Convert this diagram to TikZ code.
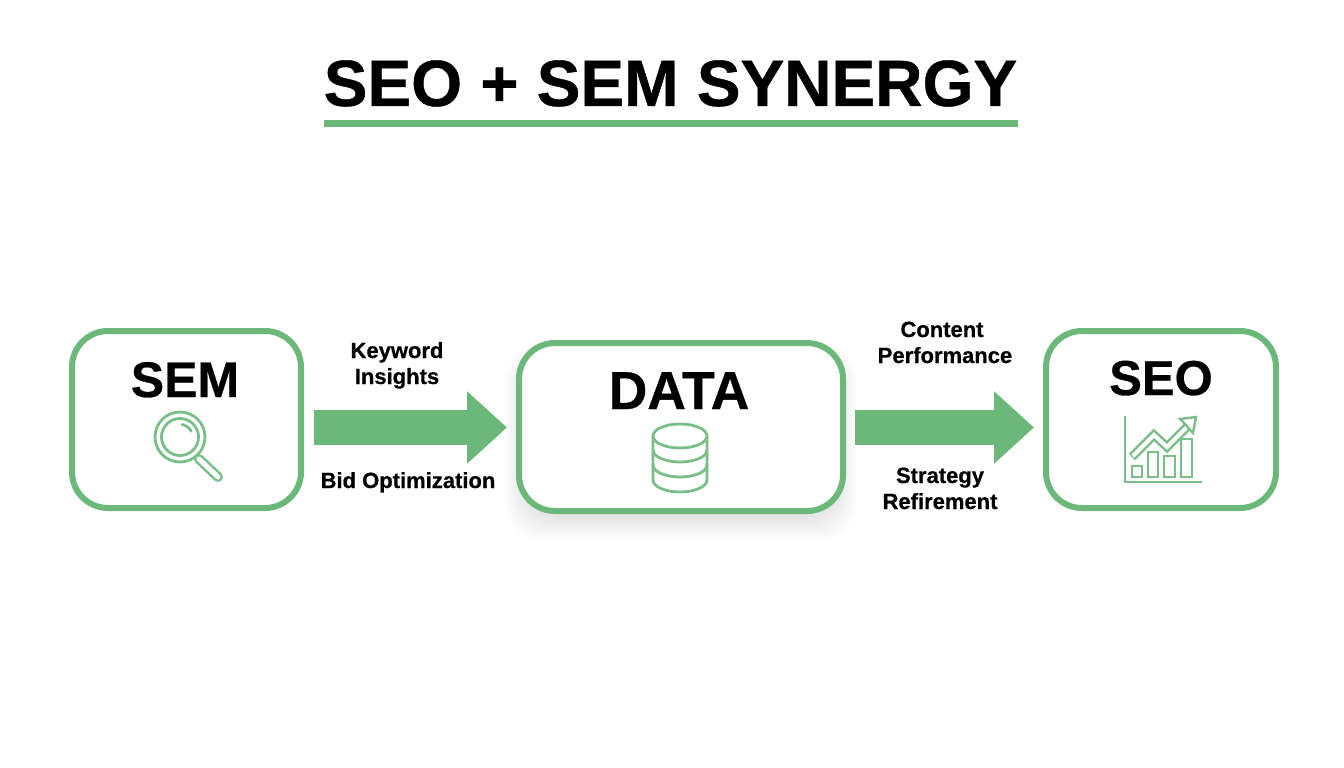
\documentclass[tikz,border=0pt]{standalone}
\usepackage{fontspec}
\setmainfont{Liberation Sans}[BoldFeatures={FakeBold=0.6}]
\usetikzlibrary{arrows.meta,calc}
\definecolor{brandgreen}{HTML}{6BB87A}
\definecolor{icongreen}{HTML}{79BF87}
\newcommand{\fs}[1]{\fontsize{#1}{#1}\selectfont\bfseries}
\tikzset{
  x=1pt,y=-1pt,
  panel/.style={draw=brandgreen,line width=6pt,fill=white,rounded corners=36pt,inner sep=0pt,outer sep=0pt},
  blockarrow/.style={draw=brandgreen,line width=35pt,-{Triangle[length=40pt,width=70pt,fill=brandgreen]}},
  heading/.style={anchor=base,inner sep=0pt,font=\fs{#1},text=black},
  label/.style={anchor=base,inner sep=0pt,font=\fs{22},text=black},
  iconline/.style={draw=icongreen,line width=2.8pt,line join=round,line cap=round},
}
\begin{document}
\begin{tikzpicture}
\useasboundingbox[fill=white] (0,0) rectangle (1344,768);
% title
\node[heading=65.5] (title) at (670.5,106) {SEO + SEM SYNERGY};
\coordinate (ulL) at (324,123.5);
\coordinate (ulR) at (1018,123.5);
\draw[brandgreen,line width=6.5pt] (ulL) -- (ulR);
% soft shadow under DATA
\foreach \g in {32,31,...,1}{
  \fill[black,opacity=0.0035,rounded corners=38pt]
    (530-\g*0.8,360-\g*0.5) rectangle (832+\g*0.8,510+\g);
}
% panels
\node[panel,minimum width=229pt,minimum height=177pt] (sem) at (186.5,419.5) {};
\node[panel,minimum width=324pt,minimum height=168pt] (data) at (681,427) {};
\node[panel,minimum width=230pt,minimum height=177pt] (seo) at (1161,419.5) {};
% panel titles
\node[heading=50] (semt) at (185,397) {SEM};
\node[heading=53.5] (datat) at (679,409) {DATA};
\node[heading=49] (seot) at (1161,395) {SEO};
% block arrows
\draw[blockarrow] ($(sem.east)+(13,8)$) -- ($(data.west)+(-12,0.5)$);
\draw[blockarrow] ($(data.east)+(12,0.5)$) -- ($(seo.west)+(-12,8)$);
% arrow labels
\node[label] (kw) at (397,358) {Keyword};
\node[label] (ins) at (397,384) {Insights};
\node[label] (bid) at (408,488) {Bid Optimization};
\node[label] (con) at (942,337) {Content};
\node[label] (perf) at (945,363) {Performance};
\node[label] (strat) at (940,483) {Strategy};
\node[label] (ref) at (940,509) {Refirement};
% magnifier icon
\draw[iconline,line width=10pt] (199,459) -- (218,477);
\draw[white,line width=5pt,line cap=round] (199,459) -- (218,477);
\draw[iconline,fill=white] (180,437) circle (25);
\draw[iconline] (180,437) circle (18.5);
\draw[iconline] (182,424.5) arc (-80:-28:13);
% database icon
\draw[iconline,fill=white] (653,436) -- (653,480) arc (180:0:27 and 12) -- (707,436);
\draw[iconline] (653,450) arc (180:0:27 and 12);
\draw[iconline] (653,465) arc (180:0:27 and 12);
\draw[iconline,fill=white] (680,436) ellipse (27 and 12);
% chart icon
\draw[iconline,line cap=butt,line width=2.4pt] (1125,416) -- (1125,482) -- (1202,482);
\foreach \xa/\xb/\yt in {1132/1142/466,1148/1158/452,1164/1175/456,1181/1192/439}{
  \draw[iconline,fill=white,line cap=butt,line join=miter] (\xa,\yt) rectangle (\xb,477);
}
\draw[iconline,line width=9pt,line cap=butt,line join=miter] (1132,457) -- (1154,435) -- (1167,447) -- (1188,426);
\draw[white,line width=4pt,line cap=butt,line join=miter] (1132.9,456.1) -- (1154,435) -- (1167,447) -- (1188,426);
\draw[iconline,fill=white,line join=miter,line width=2.4pt] (1196,417) -- (1193,433) -- (1187.5,427) -- (1186,425) -- (1180,419) -- cycle;
\end{tikzpicture}
\end{document}
